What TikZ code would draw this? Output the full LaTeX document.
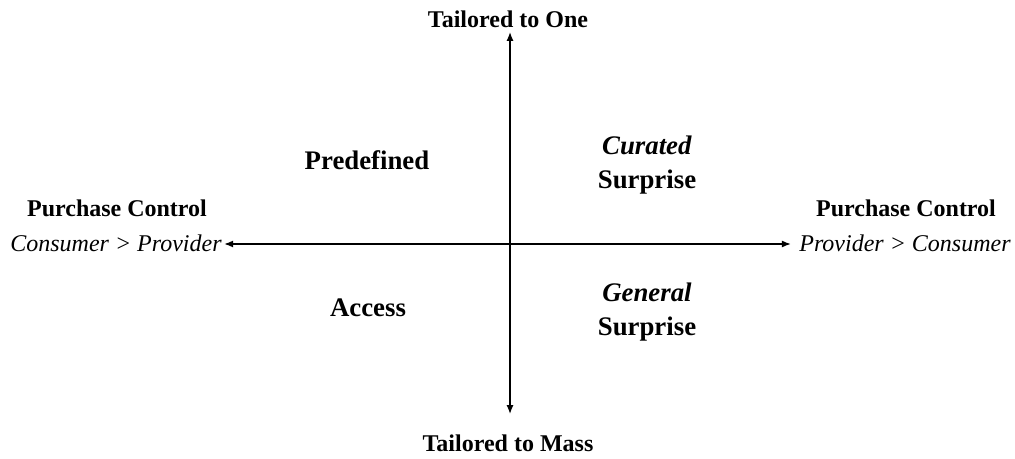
\documentclass[tikz,border=0pt]{standalone}
\usepackage{fontspec}
\setmainfont{Liberation Serif}
\usetikzlibrary{arrows.meta}

\tikzset{
  axislabel/.style={font=\fontsize{12}{14}\selectfont\bfseries, inner sep=1pt},
  poslabel/.style={font=\fontsize{12}{14}\selectfont\itshape, inner sep=1pt},
  quadlabel/.style={font=\fontsize{13.4}{17}\selectfont\bfseries, align=center, inner sep=1pt},
  axis/.style={line width=0.8pt, {Latex[length=4.5pt,width=3.5pt]}-{Latex[length=4.5pt,width=3.5pt]}}
}

\begin{document}
\begin{tikzpicture}[x=0.5pt, y=-0.5pt]
\useasboundingbox (0,0) rectangle (1015,459);

% Vertical axis labels
\node[axislabel] (one) at (508,19) {Tailored to One};
\node[axislabel] (mass) at (508,443) {Tailored to Mass};

% Horizontal axis labels
\node[axislabel] (pcleft) at (117,208) {Purchase Control};
\node[poslabel] (cpleft) at (116,243) {Consumer > Provider};
\node[axislabel] (pcright) at (906,208) {Purchase Control};
\node[poslabel] (pcright2) at (905,243) {Provider > Consumer};

% Axes
\draw[axis, shorten >=3pt] ([yshift=-0.5pt]cpleft.east) -- ([yshift=-0.5pt]pcright2.west);
\draw[axis, shorten <=1pt, shorten >=9pt] ([xshift=1pt]one.south) -- ([xshift=1pt]mass.north);

% Quadrants
\node[quadlabel] (predef) at (367,160) {Predefined};
\node[quadlabel] (curated) at (647,165) {\textit{Curated}\\Surprise};
\node[quadlabel] (access) at (368,308) {Access};
\node[quadlabel] (general) at (647,312) {\textit{General}\\Surprise};
\end{tikzpicture}
\end{document}
